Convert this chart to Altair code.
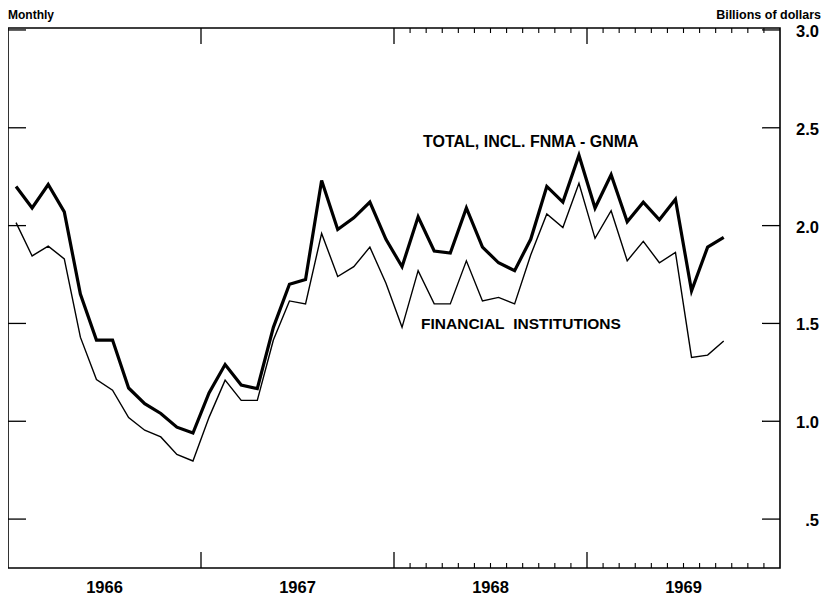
import altair as alt
import pandas as pd

# ---------------- data ----------------
start_year = 1966
years = [1966, 1967, 1968, 1969]
year_labels = ["1966", "1967", "1968", "1969"]

# Monthly, Jan 1966 .. Sep 1969 (billions of dollars)
total = [
    2.20, 2.09, 2.21, 2.07, 1.65, 1.415, 1.415, 1.17, 1.09, 1.04, 0.97, 0.94,
    1.145, 1.29, 1.185, 1.167, 1.48, 1.70, 1.725, 2.23, 1.98, 2.04, 2.12, 1.93,
    1.79, 2.045, 1.87, 1.86, 2.09, 1.89, 1.81, 1.77, 1.93, 2.20, 2.12, 2.36,
    2.09, 2.26, 2.02, 2.12, 2.03, 2.135, 1.667, 1.89, 1.94,
]
financial = [
    2.015, 1.845, 1.895, 1.83, 1.43, 1.213, 1.159, 1.019, 0.954, 0.92, 0.83, 0.797,
    1.02, 1.21, 1.107, 1.107, 1.415, 1.615, 1.60, 1.96, 1.74, 1.79, 1.89, 1.705,
    1.48, 1.77, 1.60, 1.60, 1.82, 1.615, 1.633, 1.60, 1.85, 2.06, 1.99, 2.216,
    1.935, 2.076, 1.82, 1.92, 1.81, 1.863, 1.326, 1.338, 1.41,
]

y_ticks = [0.5, 1.0, 1.5, 2.0, 2.5, 3.0]
y_tick_labels = [".5", "1.0", "1.5", "2.0", "2.5", "3.0"]
year_bounds = [1967, 1968, 1969]
month_tick_years = [1968, 1969]

total_label = "TOTAL, INCL. FNMA - GNMA"
total_label_pos = [1968.15, 2.40]
fin_label = "FINANCIAL\u00a0 INSTITUTIONS"
fin_label_pos = [1968.14, 1.472]

left_title = "Monthly"
right_title = "Billions of dollars"

# ---------------- tables ----------------
n = len(total)
t = [start_year + (i + 0.5) / 12 for i in range(n)]
df_total = pd.DataFrame({"t": t, "v": total})
df_fin = pd.DataFrame({"t": t, "v": financial})
df_years = pd.DataFrame({"b": year_bounds})
df_months = pd.DataFrame({"b": [y + k / 12 for y in month_tick_years for k in range(1, 12)]})
df_yt = pd.DataFrame({"v": y_ticks, "lab": y_tick_labels})
df_ylab = pd.DataFrame({"m": [y + 0.5 for y in years], "lab": year_labels})
df_tl = pd.DataFrame({"x": [total_label_pos[0]], "y": [total_label_pos[1]], "lab": [total_label]})
df_fl = pd.DataFrame({"x": [fin_label_pos[0]], "y": [fin_label_pos[1]], "lab": [fin_label]})

W, H = 772, 540
FONT = "Liberation Sans, Arial, Helvetica, sans-serif"

xs = alt.Scale(domain=[1966, 1970], nice=False, zero=False)
ys = alt.Scale(domain=[0.25, 3.01], nice=False, zero=False)

line_total = alt.Chart(df_total).mark_line(color="black", strokeWidth=3.2, strokeJoin="miter").encode(
    x=alt.X("t:Q", scale=xs, axis=None),
    y=alt.Y("v:Q", scale=ys, axis=None),
)
line_fin = alt.Chart(df_fin).mark_line(color="black", strokeWidth=1.4, strokeJoin="miter").encode(
    x=alt.X("t:Q", scale=xs, axis=None),
    y=alt.Y("v:Q", scale=ys, axis=None),
)

def xrule(df, y0, y1, sw=1.3):
    return alt.Chart(df).mark_rule(color="black", strokeWidth=sw).encode(
        x=alt.X("b:Q", scale=xs, axis=None),
        y=alt.value(y0), y2=alt.value(y1),
    )

yr_top = xrule(df_years, 0, 16)
yr_bot = xrule(df_years, H - 16, H)
mo_top = xrule(df_months, 0, 5, 1.1)
mo_bot = xrule(df_months, H - 5, H, 1.1)

yt_left = alt.Chart(df_yt).mark_rule(color="black", strokeWidth=1.3).encode(
    y=alt.Y("v:Q", scale=ys, axis=None), x=alt.value(0), x2=alt.value(18)
)
yt_right = alt.Chart(df_yt).mark_rule(color="black", strokeWidth=1.3).encode(
    y=alt.Y("v:Q", scale=ys, axis=None), x=alt.value(W - 18), x2=alt.value(W)
)
yt_text = alt.Chart(df_yt).mark_text(
    align="right", baseline="middle", font=FONT, fontSize=16.5, fontWeight="bold", color="black", dy=2
).encode(
    y=alt.Y("v:Q", scale=ys, axis=None), x=alt.value(W + 39), text="lab:N"
)

yl_text = alt.Chart(df_ylab).mark_text(
    align="center", baseline="alphabetic", font=FONT, fontSize=16.5, fontWeight="bold", color="black"
).encode(
    x=alt.X("m:Q", scale=xs, axis=None), y=alt.value(H + 25), text="lab:N"
)

total_text = alt.Chart(df_tl).mark_text(
    align="left", baseline="alphabetic", font=FONT, fontSize=16, fontWeight="bold", color="black"
).encode(
    x=alt.X("x:Q", scale=xs, axis=None), y=alt.Y("y:Q", scale=ys, axis=None), text="lab:N"
)
fin_text = alt.Chart(df_fl).mark_text(
    align="left", baseline="alphabetic", font=FONT, fontSize=15.5, fontWeight="bold", color="black"
).encode(
    x=alt.X("x:Q", scale=xs, axis=None), y=alt.Y("y:Q", scale=ys, axis=None), text="lab:N"
)

t_left = alt.Chart(pd.DataFrame({"lab": [left_title]})).mark_text(
    align="left", baseline="alphabetic", font=FONT, fontSize=12, fontWeight="bold", color="black"
).encode(x=alt.value(0), y=alt.value(-9.5), text="lab:N")

t_right = alt.Chart(pd.DataFrame({"lab": [right_title]})).mark_text(
    align="right", baseline="alphabetic", font=FONT, fontSize=12.5, fontWeight="bold", color="black"
).encode(x=alt.value(W + 41), y=alt.value(-9.5), text="lab:N")

chart = alt.layer(
    line_fin, line_total,
    yr_top, yr_bot, mo_top, mo_bot, yt_left, yt_right,
    yt_text, yl_text, total_text, fin_text, t_left, t_right,
).properties(
    width=W, height=H,
    autosize=alt.AutoSizeParams(type="none"),
    padding={"left": 0, "top": 20, "right": 41, "bottom": 27},
    background="white",
).configure_view(
    stroke="black", strokeWidth=1.6
)

chart.save("out.html", embed_options={"renderer": "svg", "actions": False})
